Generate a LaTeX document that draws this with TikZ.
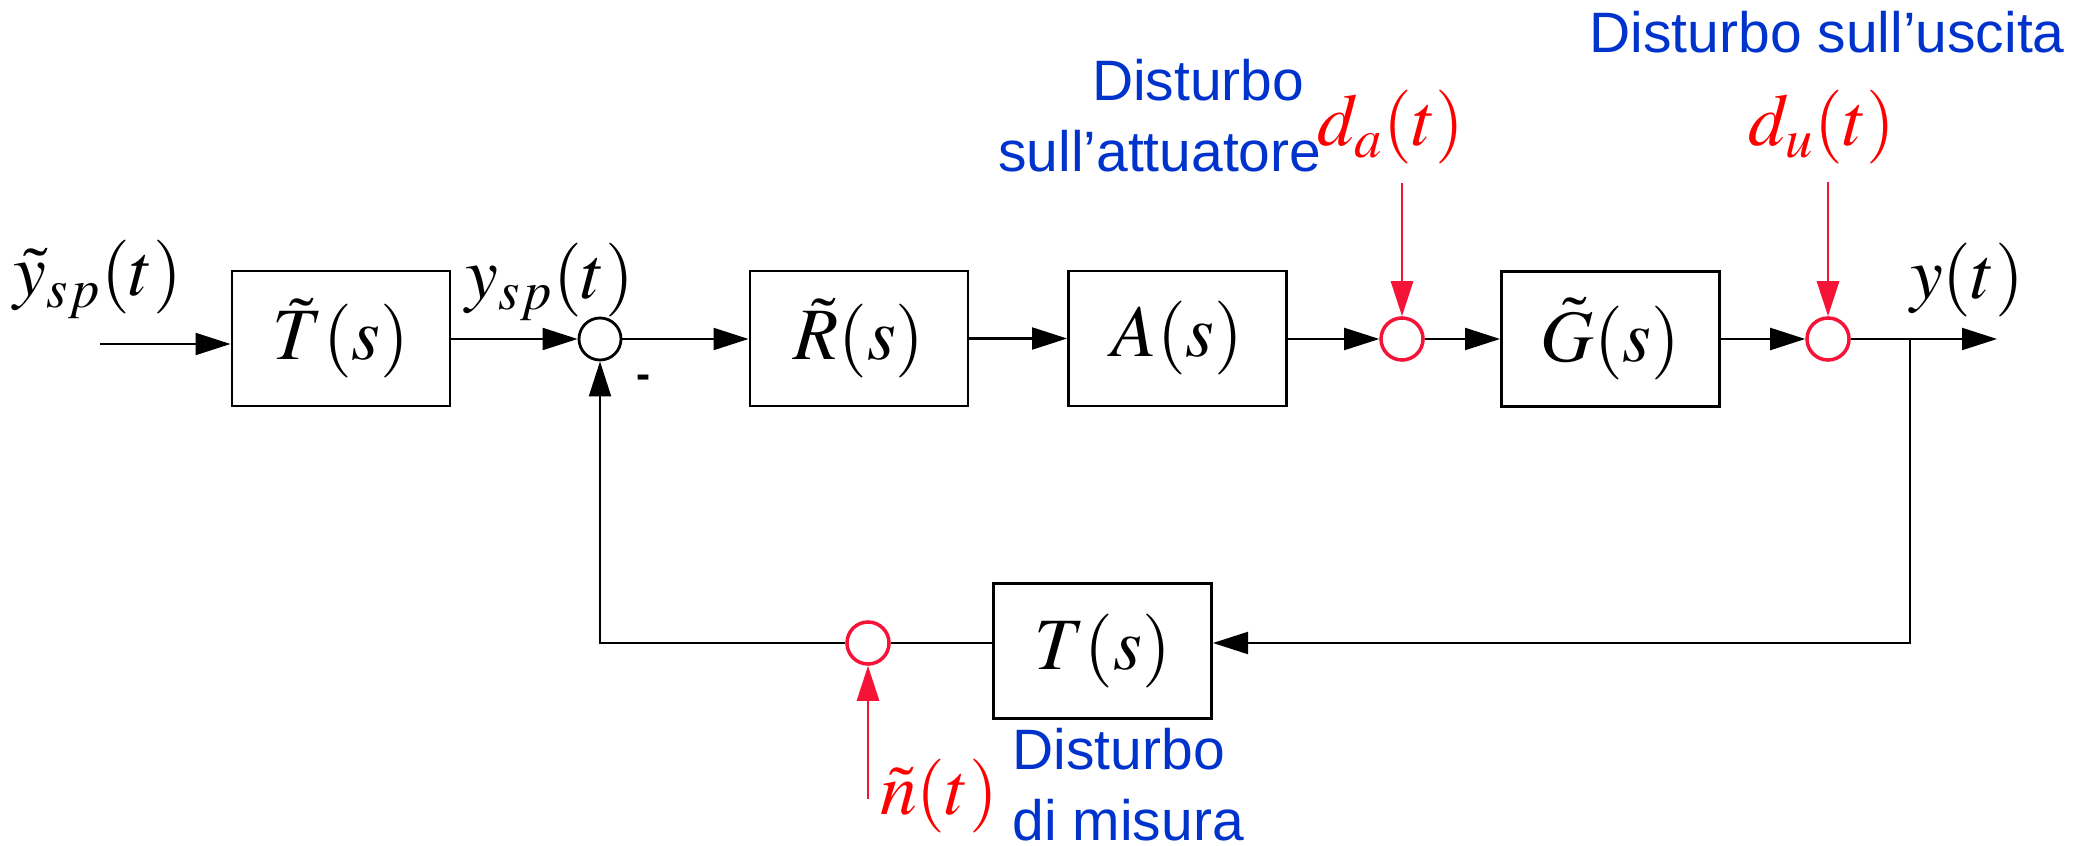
\documentclass[tikz,border=0pt]{standalone}
\usepackage{mathptmx}
\usepackage[no-math]{fontspec}
\newfontfamily\bluefont{Liberation Sans}
\usetikzlibrary{arrows.meta}
\definecolor{dblue}{RGB}{0,51,204}
\definecolor{dred}{RGB}{245,20,55}
\definecolor{lred}{RGB}{255,0,0}
\begin{document}
\begin{tikzpicture}[x=0.01cm,y=-0.01cm,
  blk/.style={draw,line width=0.8pt,minimum width=2.18cm,minimum height=1.35cm,inner sep=0pt,font=\fontsize{21}{24}\selectfont},
  sumc/.style={draw,circle,line width=0.8pt,minimum size=0.42cm,inner sep=0pt},
  dsum/.style={sumc,draw=dred,line width=1pt},
  conn/.style={line width=0.6pt,-{Triangle[length=0.35cm,width=0.22cm]}},
  plainc/.style={line width=0.6pt},
  rconn/.style={draw=dred,line width=0.8pt,-{Triangle[length=0.35cm,width=0.22cm]}},
  mlab/.style={font=\fontsize{21}{24}\selectfont,inner sep=0pt,anchor=base},
  rlab/.style={mlab,text=lred},
  blab/.style={font=\bluefont\fontsize{16.2}{20.2}\selectfont,text=dblue,inner sep=0pt}
]
\useasboundingbox (0,0) rectangle (2089,846);

% blocks
\node[blk] (Tt) at (341,338.5) {$\tilde{T}(s)$};
\node[sumc] (s1) at (600,339) {};
\node[blk] (Rt) at (859,338.5) {$\tilde{R}(s)$};
\node[blk] (A) at (1177.5,338.5) {$A(s)$};
\node[dsum] (sa) at (1402,339) {};
\node[blk] (Gt) at (1610.5,339) {$\tilde{G}(s)$};
\node[dsum] (su) at (1828,339) {};
\node[blk] (Tf) at (1102.5,651) {$T(s)$};
\node[dsum] (sn) at (868,643) {};

\coordinate (br) at (1910,339);
\coordinate (out) at (1997,339);
\coordinate (cnr) at (600,643);
\coordinate (in) at (100,344);
\coordinate (dain) at (1402,183);
\coordinate (duin) at (1828,182);
\coordinate (nin) at (868,799);

% connectors
\draw[conn] (in) -- (in -| Tt.west);
\draw[conn] (Tt.east |- s1) -- (s1.west);
\draw[conn] (s1.east) -- (Rt.west |- s1);
\draw[conn] (Rt.east) -- (A.west);
\draw[conn] (A.east |- sa) -- (sa.west);
\draw[conn] (sa.east) -- (Gt.west);
\draw[conn] (Gt.east) -- (su.west);
\draw[conn] (su.east) -- (br) -- (out);
\draw[conn] (br) |- (Tf.east |- cnr);
\draw[plainc] (Tf.west |- sn) -- (sn.east);
\draw[conn] (sn.west) -- (cnr) -- (s1.south);
\draw[rconn] (dain) -- (sa.north);
\draw[rconn] (duin) -- (su.north);
\draw[rconn] (nin) -- (sn.south);

% labels
\node[mlab] (lyin) at (98,296) {$\tilde{y}_{sp}(t)$};
\node[mlab] (lysp) at (550,298) {$y_{sp}(t)$};
\node[mlab] (ly) at (1967,299) {$y(t)$};
\node[rlab] (lda) at (1391,146) {$d_a(t)$};
\node[rlab] (ldu) at (1822,146) {$d_u(t)$};
\node[rlab] (ln) at (939,814) {$\tilde{n}(t)$};
\node[font=\bluefont\fontsize{12}{12}\bfseries\selectfont,inner sep=0pt] (minus) at (644,382) {-};

\node[blab,anchor=base west] (bu) at (1589,53) {Disturbo sull’uscita};
\node[blab,anchor=south east,align=right] (ba) at (1322,173) {Disturbo\hspace*{0.17cm}\\sull’attuatore};
\node[blab,anchor=south west,align=left] (bm) at (1012,842) {Disturbo\\di misura};
\end{tikzpicture}
\end{document}
